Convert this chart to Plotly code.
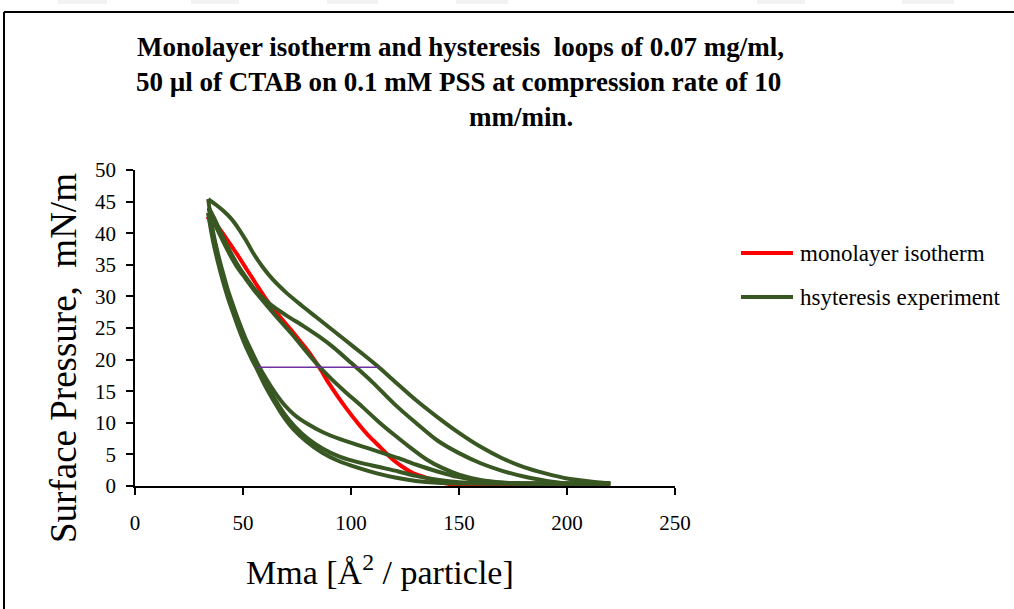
import plotly.graph_objects as go

# ---------------- data ----------------
# monolayer isotherm (red), compression from large to small area
iso_x = [220, 150, 145, 140, 135, 128.9, 124, 119.6, 113.4, 108, 103, 98, 94, 89.5, 85.6,
         80, 76, 72.5, 67, 61, 56, 51.7, 47, 44, 41, 38, 35.5, 33.3]
iso_y = [0.1, 0.1, 0.35, 0.75, 1.3, 2.0, 3.0, 4.1, 6.2, 8.0, 10.0, 12.2, 14.1, 16.4, 18.6,
         21.4, 23.1, 24.6, 26.8, 29.4, 32.0, 34.3, 36.8, 38.3, 39.8, 41.2, 42.1, 42.6]

# hysteresis experiment (green): three compression / expansion cycles
comp1_x = [220, 210, 200, 190, 180, 170, 160, 150, 140, 130, 120, 112.5, 105, 98, 91, 84,
           77, 70, 64, 59, 55, 51.5, 48, 44.5, 41, 37.5, 33.9]
comp1_y = [0.4, 0.75, 1.2, 2.0, 3.0, 4.4, 6.2, 8.4, 10.9, 13.6, 16.6, 18.9, 21.0, 22.9, 24.8,
           26.7, 28.6, 30.6, 32.6, 34.7, 36.7, 38.8, 40.7, 42.3, 43.5, 44.5, 45.4]

exp1_x = [33.9, 35, 36.5, 38.5, 40.5, 43, 45.5, 48, 51, 54, 57, 61, 65, 69, 74, 80, 87, 95,
          104, 113, 122, 130, 140, 150, 160, 170, 180, 220]
exp1_y = [45.4, 42.6, 39.6, 36.6, 34.0, 31.0, 28.5, 26.1, 23.5, 21.3, 19.2, 16.8, 14.7, 12.9,
          11.2, 9.8, 8.5, 7.4, 6.4, 5.4, 4.4, 3.4, 2.3, 1.4, 0.8, 0.5, 0.4, 0.4]

comp2_x = [220, 200, 195, 190, 180, 170, 160, 150, 140, 130, 120, 110, 100, 92, 85, 78, 70,
           62, 56, 51, 47, 43, 39.5, 36.5, 34.2]
comp2_y = [0.4, 0.4, 0.6, 0.85, 1.5, 2.4, 3.6, 5.2, 7.2, 10.0, 13.0, 16.4, 19.5, 21.9, 23.7,
           25.3, 27.0, 28.9, 30.9, 33.2, 35.3, 37.8, 40.3, 42.5, 44.0]

exp2_x = [34.2, 35.2, 36.7, 38.7, 40.7, 43.2, 45.7, 48.2, 51.2, 54.2, 57.2, 61, 65, 69, 74,
          80, 87, 95, 104, 113, 122, 130, 140, 150, 160, 220]
exp2_y = [44.0, 41.6, 38.8, 35.9, 33.3, 30.4, 27.9, 25.5, 22.9, 20.7, 18.6, 16.0, 13.6, 11.5,
          9.4, 7.5, 5.9, 4.6, 3.7, 3.0, 2.3, 1.6, 1.0, 0.6, 0.45, 0.4]

comp3_x = [220, 180, 170, 160, 150, 142, 135, 127, 120, 113, 105, 97, 91, 85, 78, 72.5, 67,
           61.7, 56, 51, 47, 43, 39.5, 36.5, 33.8]
comp3_y = [0.4, 0.4, 0.55, 0.95, 1.8, 2.9, 4.2, 6.2, 8.1, 10.1, 12.6, 15.0, 16.9, 19.0, 21.8,
           24.1, 26.2, 28.3, 30.6, 32.9, 34.8, 37.2, 39.6, 41.7, 43.2]

exp3_x = [33.8, 34.9, 36.4, 38.4, 40.4, 42.9, 45.4, 47.9, 50.9, 53.9, 56.9, 60.5, 64.5, 68.5,
          73.5, 79.5, 86.5, 94, 103, 112, 121, 130, 140, 150, 220]
exp3_y = [43.2, 41.0, 38.3, 35.4, 32.8, 29.9, 27.4, 25.0, 22.4, 20.2, 18.2, 15.7, 13.3, 11.1,
          8.9, 7.0, 5.3, 4.0, 2.9, 2.0, 1.3, 0.8, 0.5, 0.4, 0.4]

# thin purple reference line
ref_x = [57, 112.6]
ref_y = [18.8, 18.8]

series_names = ["monolayer isotherm", "hsyteresis experiment"]
x_ticks = [0, 50, 100, 150, 200, 250]
y_ticks = [0, 5, 10, 15, 20, 25, 30, 35, 40, 45, 50]

RED = "#FF0000"
GREEN = "#385723"
PURPLE = "#7030A0"
FONT = "Liberation Serif"

# ---------------- figure ----------------
W, H = 1014, 609
L, R, T, B = 135, 339, 170, 123
PW, PH = W - L - R, H - T - B


def px(x):
    return (x - L) / PW


def py(y):
    return (H - B - y) / PH


fig = go.Figure()

fig.add_trace(go.Scatter(x=iso_x, y=iso_y, mode="lines", name=series_names[0],
                         line=dict(color=RED, width=4, shape="spline", smoothing=0.8),
                         showlegend=False))

for sx, sy in [(comp1_x, comp1_y), (exp1_x, exp1_y), (comp2_x, comp2_y),
               (exp2_x, exp2_y), (comp3_x, comp3_y), (exp3_x, exp3_y)]:
    fig.add_trace(go.Scatter(x=sx, y=sy, mode="lines", name=series_names[1],
                             legendgroup="hys", showlegend=False,
                             line=dict(color=GREEN, width=4, shape="spline", smoothing=0.8)))

fig.add_trace(go.Scatter(x=ref_x, y=ref_y, mode="lines", showlegend=False,
                         line=dict(color=PURPLE, width=1.5)))

axis_common = dict(showline=True, linecolor="black", linewidth=1.5, ticks="outside",
                   ticklen=7, tickwidth=1.5, tickcolor="black", showgrid=False,
                   zeroline=False, tickfont=dict(family=FONT, size=21, color="black"))

fig.update_xaxes(range=[0, 250], tickvals=x_ticks, ticklabelstandoff=10, **axis_common)
fig.update_yaxes(range=[0, 50], tickvals=y_ticks, ticklabelstandoff=6, **axis_common)

annotations = [
    dict(text="<b>Monolayer isotherm and hysteresis&nbsp; loops of 0.07 mg/ml,</b>",
         x=px(460), y=py(47), size=27),
    dict(text="<b>50 µl of CTAB on 0.1 mM PSS at compression rate of 10</b>",
         x=px(458), y=py(82), size=27),
    dict(text="<b>mm/min.</b>", x=px(521), y=py(117), size=27),
    dict(text="Mma [Å<sup>2</sup> / particle]", x=px(380), y=py(570), size=34),
]
anns = []
for a in annotations:
    anns.append(dict(text=a["text"], x=a["x"], y=a["y"], xref="paper", yref="paper",
                     xanchor="center", yanchor="middle", showarrow=False,
                     font=dict(family=FONT, size=a["size"], color="black")))

anns.append(dict(text="Surface Pressure,&nbsp; mN/m", x=px(63), y=py(358), xref="paper",
                 yref="paper", xanchor="center", yanchor="middle", showarrow=False,
                 textangle=-90, font=dict(family=FONT, size=37, color="black")))

# legend (drawn by hand to match the long legend keys)
legend_rows = [(series_names[0], RED, 253), (series_names[1], GREEN, 297)]
shapes = []
for name, col, yy in legend_rows:
    shapes.append(dict(type="line", xref="paper", yref="paper", x0=px(741), x1=px(793),
                       y0=py(yy), y1=py(yy), line=dict(color=col, width=4)))
    anns.append(dict(text=name, x=px(798), y=py(yy), xref="paper", yref="paper",
                     xanchor="left", yanchor="middle", showarrow=False,
                     font=dict(family=FONT, size=23, color="black")))

# chart frame (top and left edges visible)
shapes.append(dict(type="line", xref="paper", yref="paper", x0=px(4), x1=px(1020),
                   y0=py(12), y1=py(12), line=dict(color="black", width=2)))
shapes.append(dict(type="line", xref="paper", yref="paper", x0=px(4), x1=px(4),
                   y0=py(12), y1=py(615), line=dict(color="black", width=2)))

# faint marks along the very top edge
for x0, x1 in [(58, 107), (191, 239), (327, 378), (456, 508), (757, 805), (902, 954)]:
    shapes.append(dict(type="rect", xref="paper", yref="paper", x0=px(x0), x1=px(x1),
                       y0=py(4), y1=py(0), fillcolor="#f2f2f2", line=dict(width=0),
                       layer="below"))

fig.update_layout(width=W, height=H, margin=dict(l=L, r=R, t=T, b=B, pad=0),
                  paper_bgcolor="white", plot_bgcolor="white",
                  annotations=anns, shapes=shapes, showlegend=False)

fig.write_html("out.html")
